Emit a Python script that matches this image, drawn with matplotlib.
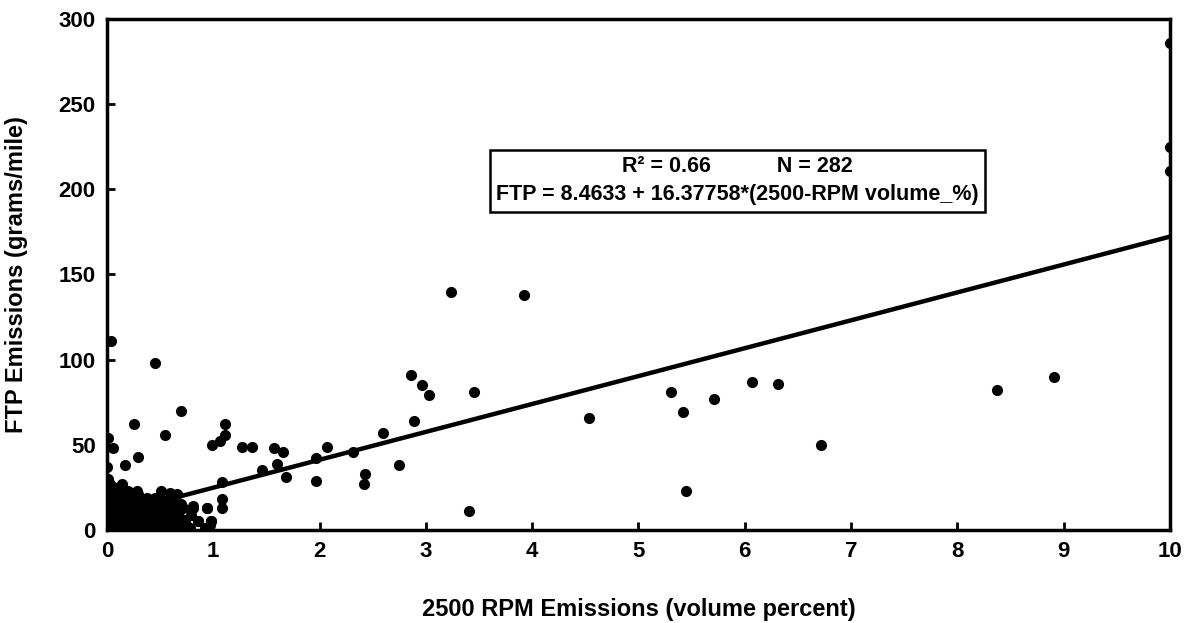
import matplotlib
matplotlib.use("Agg")
from matplotlib import pyplot as plt
import numpy as np

plt.rcParams['font.family'] = ['Liberation Sans', 'DejaVu Sans']
plt.rcParams['font.weight'] = 'bold'

# scattered points (2500 RPM %, FTP g/mi)
outer_x = [10.0, 10.0, 10.0, 3.24, 3.92, 2.86, 2.96, 3.03, 3.45, 2.89, 2.60, 2.07,
           2.31, 1.97, 1.97, 2.43, 2.42, 2.75, 3.41, 4.53, 5.31, 5.42, 5.45, 5.71,
           6.07, 6.31, 6.72, 8.37, 8.91, 0.04, 0.45, 0.70, 0.25, 0.55, 1.11, 1.11,
           1.06, 0.99, 1.27, 1.36, 1.57, 1.66, 1.60, 1.46, 1.68, 0.01, 0.06, 1.08,
           1.08, 1.08, 0.29, 0.17, 0.51, 0.14, 0.28, 0.59, 0.66, 0.81, 0.94, 0.73,
           0.86, 0.98, 0.00, 0.01, 0.03]
outer_y = [286, 225, 211, 140, 138, 91, 85, 79, 81, 64, 57, 49,
           46, 42, 29, 33, 27, 38, 11, 66, 81, 69, 23, 77,
           87, 86, 50, 82, 90, 111, 98, 70, 62, 56, 62, 56,
           52, 50, 49, 49, 48, 46, 39, 35, 31, 54, 48, 28,
           18, 13, 43, 38, 23, 27, 23, 22, 21, 14, 13, 6,
           5, 5, 37, 30, 27]

# dense cluster near the origin
cluster_rows = {
    1: [0.00, 0.03, 0.06, 0.10, 0.14, 0.18, 0.22, 0.27, 0.31, 0.36, 0.42, 0.48, 0.55, 0.62, 0.70, 0.78, 0.92],
    3: [0.01, 0.04, 0.08, 0.12, 0.16, 0.21, 0.25, 0.30, 0.35, 0.40, 0.46, 0.52, 0.58, 0.66, 0.74, 0.97],
    5: [0.00, 0.03, 0.07, 0.11, 0.15, 0.19, 0.24, 0.29, 0.33, 0.38, 0.44, 0.50, 0.57, 0.63, 0.73, 0.86, 0.98],
    7: [0.02, 0.05, 0.09, 0.13, 0.17, 0.22, 0.26, 0.31, 0.37, 0.43, 0.49, 0.55, 0.61, 0.69],
    9: [0.00, 0.04, 0.08, 0.12, 0.16, 0.20, 0.25, 0.30, 0.35, 0.41, 0.47, 0.53, 0.60, 0.67, 0.79],
    11: [0.01, 0.05, 0.09, 0.14, 0.18, 0.23, 0.28, 0.33, 0.39, 0.45, 0.52, 0.58, 0.65],
    13: [0.02, 0.06, 0.10, 0.15, 0.20, 0.26, 0.32, 0.37, 0.44, 0.50, 0.57, 0.64, 0.72, 0.81, 0.94],
    15: [0.00, 0.04, 0.08, 0.13, 0.18, 0.24, 0.30, 0.36, 0.42, 0.49, 0.55, 0.63, 0.70],
    17: [0.01, 0.05, 0.10, 0.15, 0.21, 0.27, 0.34, 0.40, 0.47, 0.54, 0.61],
    19: [0.02, 0.07, 0.12, 0.18, 0.24, 0.31, 0.38, 0.45],
    21: [0.00, 0.04, 0.09, 0.16, 0.22, 0.29],
    23: [0.02, 0.07, 0.13, 0.20],
    25: [0.00, 0.05, 0.11],
}

intercept = 8.4633
slope = 16.37758

xs = list(outer_x)
ys = list(outer_y)
for yv, row in cluster_rows.items():
    xs += row
    ys += [yv] * len(row)

fig = plt.figure(figsize=(11.87, 6.23), dpi=100)
ax = fig.add_axes([0.0901, 0.1493, 0.8956, 0.8202])

ax.plot(xs, ys, 'o', color='black', markersize=7, linestyle='none')
lx = np.array([0, 10])
ax.plot(lx, intercept + slope * lx, color='black', linewidth=3.2, solid_capstyle='butt')

ax.set_xlim(0, 10)
ax.set_ylim(0, 300)
ax.set_xticks(range(0, 11))
ax.set_yticks(range(0, 301, 50))
ax.tick_params(direction='in', length=6, width=2, labelsize=16, pad=8)
ax.tick_params(axis='y', pad=8)
for s in ax.spines.values():
    s.set_linewidth(2.5)

ax.set_xlabel('2500 RPM Emissions (volume percent)', fontsize=17, fontweight='bold', labelpad=26)
ax.set_ylabel('FTP Emissions (grams/mile)', fontsize=17, fontweight='bold', labelpad=22)

ax.text(5.93, 205, 'R\u00b2 = 0.66           N = 282\nFTP = 8.4633 + 16.37758*(2500-RPM volume_%)',
        ha='center', va='center', fontsize=15.5, fontweight='bold', linespacing=1.45,
        bbox=dict(boxstyle='square,pad=0.3', facecolor='white', edgecolor='black', linewidth=1.8))

fig.savefig('out.png', dpi=100)
